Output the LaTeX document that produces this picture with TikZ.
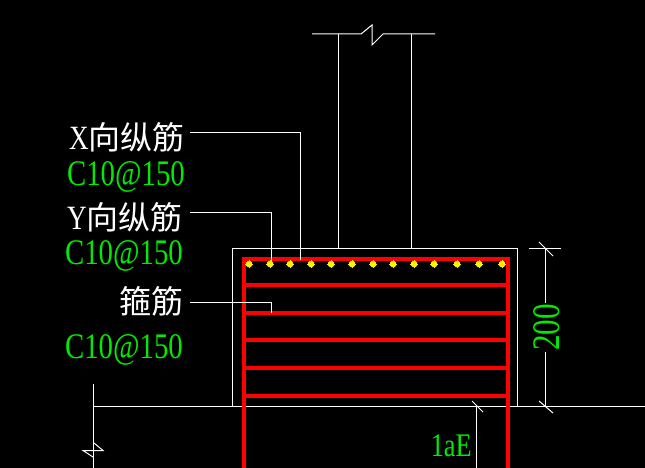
\documentclass[tikz,border=0pt]{standalone}
\usepackage{fontspec}
\setmainfont{Liberation Serif}
\newfontfamily\cadfont[FakeStretch=0.8]{Liberation Serif}
\newfontfamily\cjkfont{Noto Sans CJK SC}
\definecolor{cadgreen}{RGB}{0,235,0}
\begin{document}
\begin{tikzpicture}[x=1pt,y=-1pt]
      \tikzset{thin line/.style={white, line width=1pt},
      rebar/.style={red, line width=4.4pt},
      note/.style={white, anchor=east, inner sep=0pt, font=\fontsize{32}{32}\cjkfont},
      size/.style={cadgreen, anchor=east, inner sep=0pt, font=\fontsize{36}{36}\cadfont}}
      \useasboundingbox (0,0) rectangle (645,468);
      \fill [black] (0,0) rectangle (645,468);
      % column and footing
      \draw [thin line] (312,34) -- (361,34) -- (372,25) -- (372,45) -- (383,34) -- (435,34);
      \draw [thin line] (338.5,34) -- (338.5,248);
      \draw [thin line] (411.5,34) -- (411.5,248);
      \draw [thin line] (232.5,406) -- (232.5,248.5) -- (517.5,248.5) -- (517.5,406);
      \draw [thin line] (93,406.5) -- (645,406.5);
      \draw [thin line] (93.5,384) -- (93.5,468);
      \draw [thin line] (94,443) -- (103,450.5) -- (83,450.5) -- (93,457);
      \draw [thin line] (476.5,406) -- (476.5,468);
      \draw [thin line] (472,401) -- (483,412);
      % rebars
      \foreach \y in {285,313,340,368,396}
        \draw [rebar] (244,\y) -- (508,\y);
      \draw [rebar] (244,468) -- (244,259) -- (508,259) -- (508,468);
      \foreach \x in {249,270,290,311,331,352,373,393,414,434,457,479,502}{
        \fill [yellow] (\x-3,262.5) -- (\x-1.5,261) -- (\x+1.5,261) -- (\x+3,262.5)
          -- (\x+3,265.5) -- (\x+1.5,267) -- (\x-1.5,267) -- (\x-3,265.5) -- cycle;
        \draw [yellow, line width=1pt] (\x-4,264) -- (\x+4,264) (\x,260) -- (\x,268);
      }
      % dimension
      \node (dim) [size, anchor=center, rotate=90, font=\fontsize{39}{39}\cadfont] at (547,327.5) {200};
      \coordinate (dimtop) at (545.5,248);
      \coordinate (dimbot) at (545.5,406);
      \draw [thin line] (545.5,303) -- (dimtop);
      \draw [thin line] (545.5,352) -- (dimbot);
      \draw [thin line] (529,248.5) -- (561,248.5);
      \draw [thin line] (539,242) -- (553,256);
      \draw [thin line] (539,401) -- (553,413);
      \node (lae) [size, font=\fontsize{33}{33}\cadfont] at (472,446) {1aE};
      % labels
      \node (xbar) [note] at (185,137) {\fontsize{34}{34}\cadfont X\cjkfont\fontsize{32}{32}\selectfont 向纵筋};
      \node (xsize) [size] at (185,177) {C10@150};
      \node (ybar) [note] at (183,217) {\fontsize{34}{34}\cadfont Y\cjkfont\fontsize{32}{32}\selectfont 向纵筋};
      \node (ysize) [size] at (183,256) {C10@150};
      \node (hoop) [note] at (184,301) {箍筋};
      \node (hoopsize) [size] at (183,350) {C10@150};
      \coordinate (xend) at (300.5,260);
      \coordinate (yend) at (271.5,262);
      \coordinate (hoopend) at (271.5,313);
      \draw [thin line] ([shift={(5,-4)}]xbar.east) -| (xend);
      \draw [thin line] ([shift={(7,-5)}]ybar.east) -| (yend);
      \draw [thin line] ([shift={(6,1)}]hoop.east) -| (hoopend);
    \end{tikzpicture}
\end{document}
